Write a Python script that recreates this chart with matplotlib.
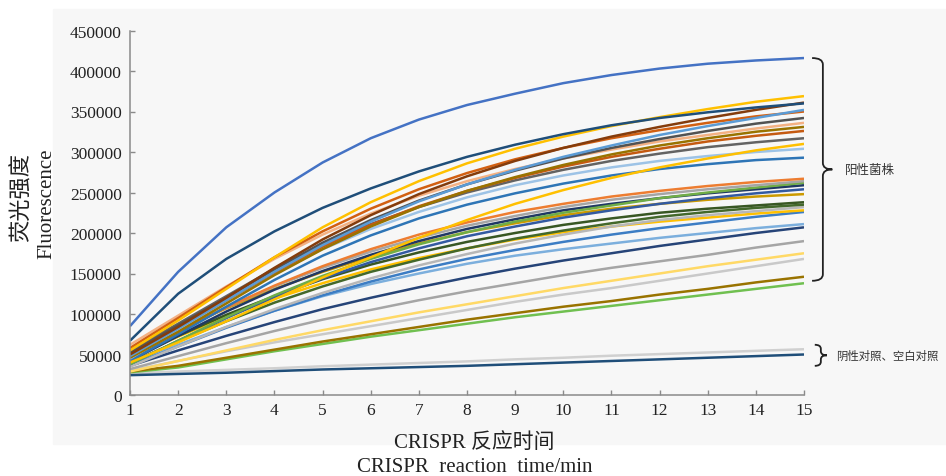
import matplotlib
matplotlib.use('Agg')
import matplotlib.pyplot as plt
import numpy as np
from matplotlib.path import Path
from matplotlib.patches import PathPatch, Rectangle
import matplotlib.transforms as mtransforms

plt.rcParams['font.family'] = ['Liberation Serif', 'Noto Sans CJK SC']

# reaction time (min)
minutes = list(range(1, 16))

# fluorescence readings in thousands, one list per strain
pos_curves = [
    ('#4472C4', [85, 152, 207, 250, 287, 317, 340, 358, 372, 385, 395, 403, 409, 413, 416]),
    ('#1F4E79', [67, 125, 168, 202, 231, 255, 276, 294, 309, 322, 333, 342, 349, 355, 360]),
    ('#FFC000', [55, 92, 131, 170, 207, 238, 264, 286, 304, 319, 332, 343, 353, 362, 369]),
    ('#843C0C', [50, 84, 120, 157, 192, 222, 248, 270, 289, 305, 319, 331, 342, 352, 361]),
    ('#5B9BD5', [48, 82, 117, 152, 185, 214, 239, 260, 278, 294, 308, 321, 332, 342, 352]),
    ('#D26012', [58, 95, 133, 170, 202, 230, 254, 274, 291, 305, 317, 327, 336, 344, 350]),
    ('#525252', [52, 86, 120, 155, 188, 216, 240, 260, 277, 292, 305, 316, 326, 335, 342]),
    ('#F4B183', [62, 98, 134, 168, 198, 224, 246, 264, 279, 292, 303, 313, 321, 329, 336]),
    ('#997300', [46, 78, 113, 148, 180, 208, 232, 252, 269, 284, 297, 308, 317, 325, 331]),
    ('#C55A11', [50, 83, 117, 151, 183, 210, 233, 252, 268, 282, 294, 304, 313, 320, 326]),
    ('#636363', [55, 88, 122, 156, 186, 211, 232, 250, 265, 278, 289, 298, 306, 312, 317]),
    ('#FFC000', [40, 65, 91, 118, 145, 170, 194, 216, 236, 253, 268, 281, 292, 302, 310]),
    ('#9DC3E6', [45, 80, 116, 150, 180, 205, 226, 244, 259, 271, 281, 289, 295, 300, 304]),
    ('#2E75B6', [42, 75, 109, 142, 172, 197, 218, 235, 249, 261, 271, 279, 285, 290, 293]),
    ('#ED7D31', [46, 78, 108, 135, 159, 180, 198, 213, 226, 236, 245, 252, 258, 263, 267]),
    ('#A5A5A5', [48, 79, 108, 134, 157, 177, 194, 209, 221, 232, 241, 248, 254, 259, 264]),
    ('#70AD47', [38, 67, 96, 123, 147, 168, 186, 201, 214, 225, 234, 243, 250, 256, 262]),
    ('#203864', [42, 73, 103, 130, 153, 173, 190, 205, 217, 228, 236, 243, 249, 254, 259]),
    ('#335AA1', [38, 67, 95, 121, 144, 164, 181, 196, 208, 219, 228, 236, 243, 249, 254]),
    ('#CC9A00', [50, 80, 107, 131, 152, 171, 187, 201, 212, 222, 230, 236, 241, 245, 248]),
    ('#385723', [45, 73, 99, 122, 143, 161, 176, 189, 200, 210, 218, 225, 230, 234, 238]),
    ('#43682B', [40, 66, 91, 114, 134, 152, 167, 181, 193, 203, 212, 220, 226, 231, 235]),
    ('#B7B7B7', [35, 60, 84, 106, 126, 144, 160, 174, 187, 198, 208, 216, 222, 227, 232]),
    ('#FFC000', [45, 72, 97, 119, 138, 155, 169, 181, 192, 201, 208, 214, 219, 224, 228]),
    ('#3C7DC4', [36, 60, 83, 104, 123, 140, 155, 168, 179, 189, 198, 206, 213, 220, 226]),
    ('#7CAFDD', [38, 62, 84, 104, 122, 137, 150, 162, 172, 180, 187, 194, 200, 206, 211]),
    ('#264478', [36, 55, 73, 90, 106, 120, 133, 145, 156, 166, 175, 184, 192, 200, 207]),
    ('#A5A5A5', [32, 48, 64, 79, 93, 105, 117, 128, 138, 148, 157, 165, 173, 182, 190]),
    ('#FFD966', [29, 42, 55, 68, 80, 91, 102, 112, 122, 132, 141, 150, 159, 167, 175]),
    ('#C9C9C9', [30, 42, 54, 65, 75, 85, 95, 105, 115, 124, 132, 141, 150, 159, 168]),
    ('#997300', [29, 36, 46, 56, 66, 75, 84, 93, 101, 109, 116, 124, 131, 139, 146]),
    ('#70C050', [28, 34, 44, 54, 63, 72, 80, 88, 96, 103, 110, 117, 124, 131, 138]),
]

neg_curves = [
    ('#D0D0D0', [27, 29, 31, 33, 35.5, 37.5, 39.5, 41.5, 44, 46, 48.5, 50.5, 52.5, 54.5, 56.5]),
    ('#1F4E79', [24.5, 26, 27.5, 29.5, 31.5, 33, 34.5, 36, 38, 40, 42, 44, 46, 48, 50]),
]

fig = plt.figure(figsize=(9.46, 4.77), dpi=100)
# light grey panel behind the chart, like the scanned figure
fig.patches.append(Rectangle((53 / 946, 32 / 477), 893 / 946, 435 / 477,
                             transform=fig.transFigure, color='#f7f7f7', zorder=-5))
ax = fig.add_axes([130 / 946, 81 / 477, 674 / 946, 364.5 / 477])
ax.set_facecolor('none')

for color, vals in neg_curves + pos_curves[::-1]:
    ax.plot(minutes, np.array(vals) * 1000, color=color, lw=1.8, solid_capstyle='butt')

ax.set_xlim(1, 15)
ax.set_ylim(0, 450000)
ax.set_xticks(minutes)
ax.set_yticks(np.arange(0, 450001, 50000))
ax.set_yticklabels([str(v) for v in range(0, 450001, 50000)])
for s in ['top', 'right']:
    ax.spines[s].set_visible(False)
for s in ['left', 'bottom']:
    ax.spines[s].set_color('#8a8a8a')
    ax.spines[s].set_linewidth(1.1)
ax.tick_params(direction='in', length=3.5, width=1, color='#8a8a8a',
               labelsize=12.5, labelcolor='#222222')
ax.tick_params(axis='y', pad=6)
ax.tick_params(axis='x', pad=5)

fig.text(22 / 946, 1 - 198 / 477, '荧光强度', rotation=90, fontsize=16,
         ha='center', va='center', color='#222222')
fig.text(47 / 946, 1 - 204 / 477, 'Fluorescence', rotation=90, fontsize=15,
         ha='center', va='center', color='#222222')
fig.text(474 / 946, 1 - 443 / 477, 'CRISPR 反应时间', fontsize=15,
         ha='center', va='center', color='#222222')
fig.text(475 / 946, 1 - 468 / 477, 'CRISPR  reaction  time/min', fontsize=15,
         ha='center', va='center', color='#222222')

trans = mtransforms.blended_transform_factory(ax.transAxes, ax.transData)


def brace(y0, y1, x0, x1, tip, r):
    ym = (y0 + y1) / 2
    verts = [(x0, y1), (x1, y1), (x1, y1 - r),
             (x1, ym + r),
             (x1, ym), (tip, ym),
             (x1, ym), (x1, ym - r),
             (x1, y0 + r),
             (x1, y0), (x0, y0)]
    codes = [Path.MOVETO, Path.CURVE3, Path.CURVE3,
             Path.LINETO,
             Path.CURVE3, Path.CURVE3,
             Path.CURVE3, Path.CURVE3,
             Path.LINETO,
             Path.CURVE3, Path.CURVE3]
    ax.add_patch(PathPatch(Path(verts, codes), transform=trans, fill=False,
                           lw=1.3, color='#222222', clip_on=False))


brace(141000, 416000, 1.012, 1.028, 1.042, 8000)
ax.text(1.061, 278500, '阳性菌株', transform=trans, fontsize=9, va='center',
        ha='left', color='#333333', family=['Noto Sans CJK SC'], clip_on=False)
brace(36000, 62000, 1.016, 1.025, 1.034, 5000)
ax.text(1.047, 49000, '阴性对照、空白对照', transform=trans, fontsize=8.2, va='center',
        ha='left', color='#333333', family=['Noto Sans CJK SC'], clip_on=False)

fig.savefig('out.png', dpi=100)
